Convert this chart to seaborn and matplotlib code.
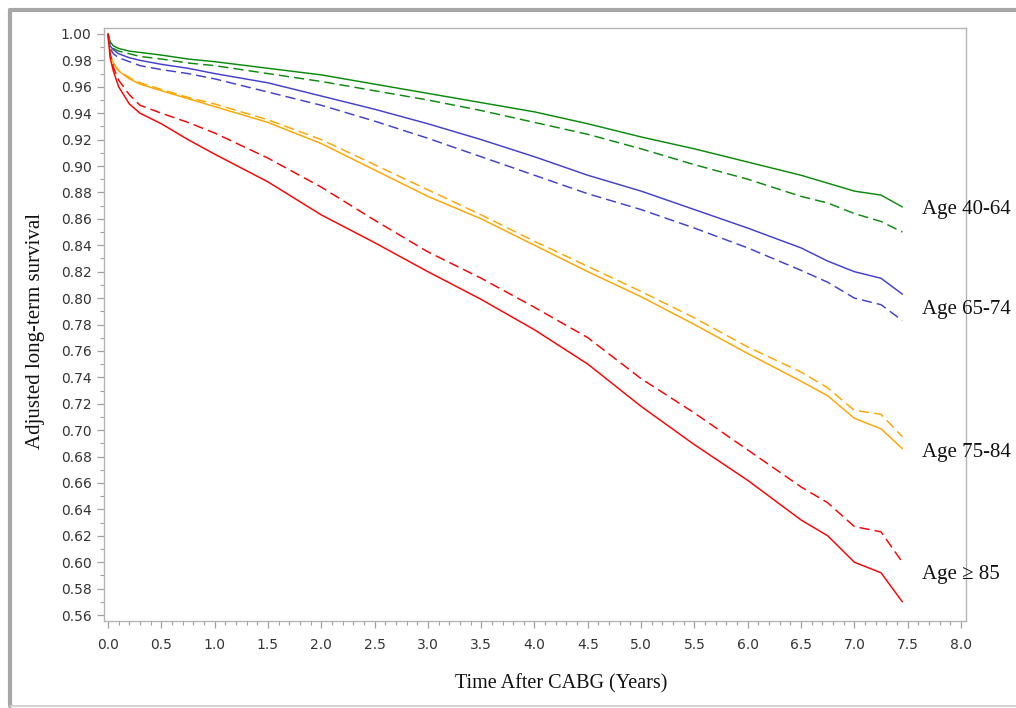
import numpy as np
import pandas as pd
import matplotlib
matplotlib.use("Agg")
import matplotlib.pyplot as plt
from matplotlib.ticker import MultipleLocator, FormatStrFormatter
from matplotlib.lines import Line2D
import seaborn as sns

# ---- data ----
times = [0, 0.02, 0.05, 0.1, 0.2, 0.3, 0.5, 0.75, 1.0, 1.5, 2.0, 2.5, 3.0, 3.5,
         4.0, 4.5, 5.0, 5.5, 6.0, 6.5, 6.75, 7.0, 7.25, 7.45]

green_solid = [1.0, 0.994, 0.991, 0.989, 0.987, 0.986, 0.984, 0.981, 0.979, 0.974, 0.969, 0.962,
               0.955, 0.948, 0.941, 0.932, 0.922, 0.913, 0.903, 0.893, 0.887, 0.881, 0.878, 0.869]
green_dashed = [1.0, 0.993, 0.989, 0.987, 0.985, 0.983, 0.981, 0.978, 0.976, 0.970, 0.964, 0.957,
                0.950, 0.942, 0.933, 0.924, 0.913, 0.901, 0.890, 0.877, 0.872, 0.864, 0.858, 0.850]
blue_solid = [1.0, 0.991, 0.988, 0.985, 0.982, 0.980, 0.977, 0.974, 0.970, 0.963, 0.953, 0.943,
              0.932, 0.920, 0.907, 0.893, 0.881, 0.867, 0.853, 0.838, 0.828, 0.820, 0.815, 0.803]
blue_dashed = [1.0, 0.989, 0.985, 0.982, 0.979, 0.976, 0.973, 0.970, 0.966, 0.956, 0.946, 0.934,
               0.921, 0.907, 0.893, 0.879, 0.867, 0.853, 0.838, 0.821, 0.812, 0.800, 0.795, 0.783]
orange_solid = [1.0, 0.984, 0.978, 0.972, 0.966, 0.962, 0.957, 0.951, 0.945, 0.933, 0.917, 0.897,
                0.877, 0.860, 0.840, 0.820, 0.801, 0.780, 0.758, 0.737, 0.726, 0.709, 0.701, 0.686]
orange_dashed = [1.0, 0.984, 0.978, 0.972, 0.967, 0.963, 0.958, 0.952, 0.947, 0.935, 0.920, 0.901,
                 0.882, 0.863, 0.843, 0.824, 0.805, 0.785, 0.763, 0.744, 0.732, 0.715, 0.712, 0.695]
red_solid = [1.0, 0.982, 0.972, 0.960, 0.947, 0.940, 0.932, 0.920, 0.909, 0.888, 0.863, 0.842,
             0.820, 0.799, 0.776, 0.750, 0.718, 0.689, 0.662, 0.632, 0.620, 0.600, 0.592, 0.570]
red_dashed = [1.0, 0.985, 0.975, 0.965, 0.954, 0.946, 0.940, 0.933, 0.925, 0.906, 0.884, 0.859,
              0.835, 0.815, 0.793, 0.770, 0.739, 0.713, 0.685, 0.657, 0.645, 0.627, 0.623, 0.600]

groups = ["Age 40-64", "Age 65-74", "Age 75-84", "Age \u2265 85"]
label_y = [0.8674, 0.7917, 0.6833, 0.591]
colors = ["#0a8a0a", "#4040cc", "#ffa500", "#ff0000"]

series = {
    ("Age 40-64", "solid"): green_solid, ("Age 40-64", "dashed"): green_dashed,
    ("Age 65-74", "solid"): blue_solid, ("Age 65-74", "dashed"): blue_dashed,
    ("Age 75-84", "solid"): orange_solid, ("Age 75-84", "dashed"): orange_dashed,
    ("Age \u2265 85", "solid"): red_solid, ("Age \u2265 85", "dashed"): red_dashed,
}
rows = []
for (g, s), vals in series.items():
    for t, v in zip(times, vals):
        rows.append({"time": t, "surv": v, "group": g, "style": s})
df = pd.DataFrame(rows)

sns.set_style("white")
plt.rcParams["font.family"] = ["DejaVu Sans"]

fig = plt.figure(figsize=(10.16, 7.08), dpi=100)
ax = fig.add_axes([104 / 1016, 1 - 621 / 708, (966 - 104) / 1016, (621 - 28) / 708])

sns.lineplot(data=df, x="time", y="surv", hue="group", style="style",
             hue_order=groups, style_order=["solid", "dashed"],
             palette=dict(zip(groups, colors)),
             dashes={"solid": "", "dashed": (7, 3.5)},
             linewidth=1.05, legend=False, ax=ax, estimator=None, sort=False)

ax.set_xlim(-0.0375, 8.047)
ax.set_ylim(0.5555, 1.0045)
ax.xaxis.set_major_locator(MultipleLocator(0.5))
ax.xaxis.set_minor_locator(MultipleLocator(0.1))
ax.yaxis.set_major_locator(MultipleLocator(0.02))
ax.yaxis.set_minor_locator(MultipleLocator(0.01))
ax.xaxis.set_major_formatter(FormatStrFormatter("%.1f"))
ax.yaxis.set_major_formatter(FormatStrFormatter("%.2f"))

tick_gray = "#a0a0a0"
for sp in ax.spines.values():
    sp.set_color("#b4b4b4")
    sp.set_linewidth(1.0)
ax.tick_params(axis="both", which="major", direction="out", length=5, width=0.9,
               color=tick_gray, labelsize=10, labelcolor="#333333", pad=4)
ax.tick_params(axis="both", which="minor", direction="out", length=3, width=0.8,
               color=tick_gray)
ax.tick_params(axis="x", which="both", bottom=True, top=False)
ax.tick_params(axis="y", which="both", left=True, right=False)
ax.tick_params(axis="x", which="major", pad=7)

serif = ["Liberation Serif", "DejaVu Serif"]
ax.set_xlabel("Time After CABG (Years)", family=serif, fontsize=14.5, color="#111111")
ax.set_ylabel("Adjusted long-term survival", family=serif, fontsize=15, color="#111111")
ax.xaxis.set_label_coords(0.530, -0.089)
ax.yaxis.set_label_coords(-0.069, 0.489)

for g, yv in zip(groups, label_y):
    ax.text(7.63, yv, g, family=serif, fontsize=15, color="#111111",
            ha="left", va="center", clip_on=False)

# outer gray frame
fc = "#a6a6a6"
fig.add_artist(Line2D([10 / 1016, 10 / 1016], [2 / 708, 1 - 10 / 708], transform=fig.transFigure,
                      color=fc, linewidth=3))
fig.add_artist(Line2D([10 / 1016, 1.0], [1 - 10 / 708, 1 - 10 / 708], transform=fig.transFigure,
                      color=fc, linewidth=3))
fig.add_artist(Line2D([10 / 1016, 1.0], [2 / 708, 2 / 708], transform=fig.transFigure,
                      color="#cccccc", linewidth=1.2))

fig.savefig("out.png", dpi=100)
